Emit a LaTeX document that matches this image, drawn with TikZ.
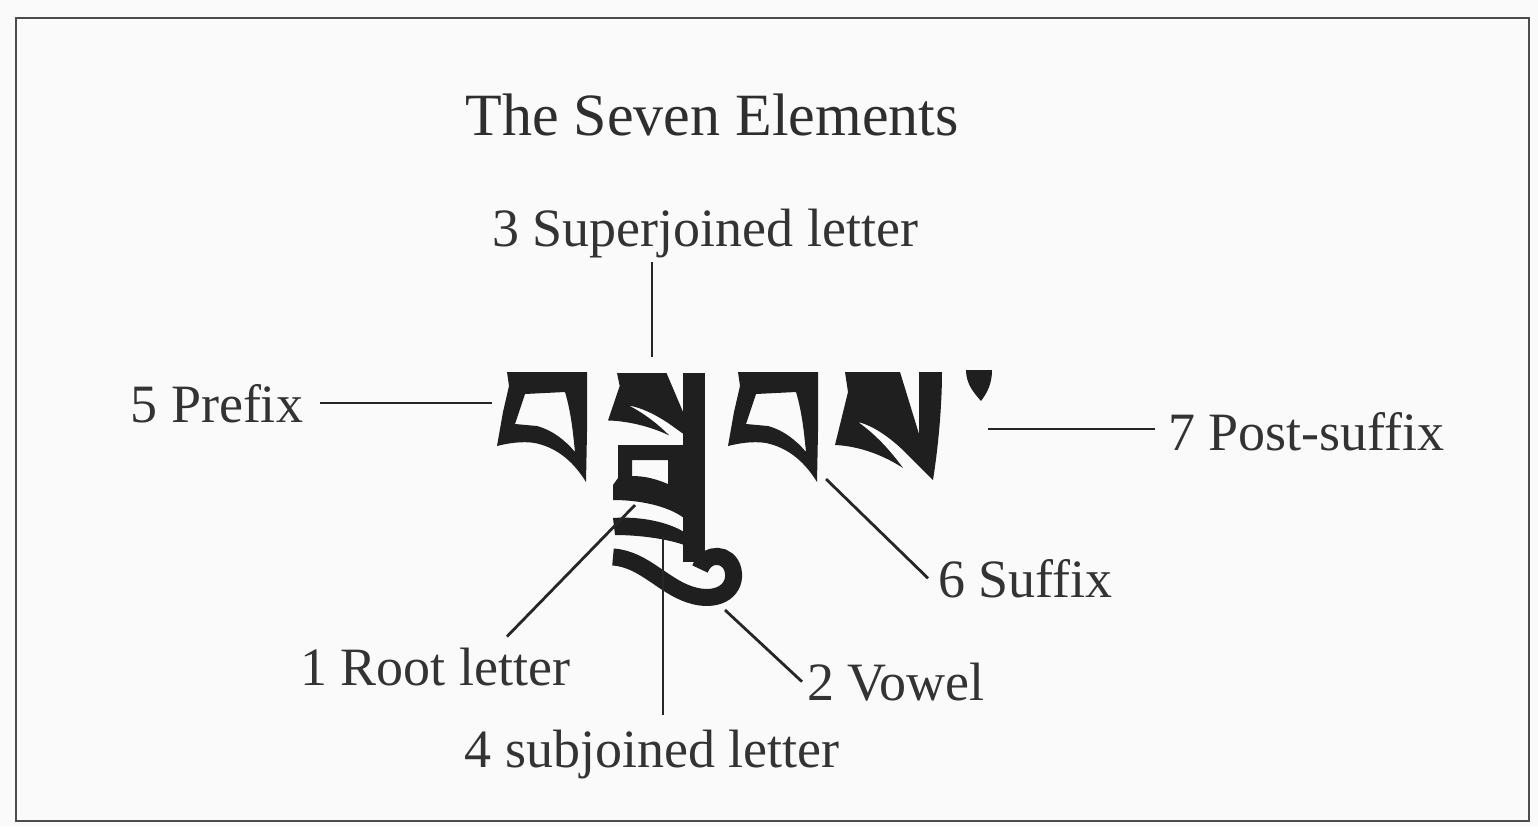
\documentclass[tikz,border=0pt]{standalone}
\usepackage{fontspec}
\setmainfont{Liberation Serif}
\tikzset{
  lbl/.style={inner sep=0pt, outer sep=0pt, text=black!80, font=\fontsize{27}{30}\selectfont},
  ttl/.style={inner sep=0pt, outer sep=0pt, text=black!82, font=\fontsize{30}{34}\selectfont},
  conn/.style={draw=black!85, line width=1.4pt},
  glyph/.style={fill=black!88, even odd rule},
  glyphstroke/.style={draw=black!88, line width=8.5pt},
  frame/.style={draw=black!70, line width=1.3pt},
  baglyph/.pic={
    \fill[glyph] (0,0) -- (80,0) -- (80,60) -- (79,110)
      .. controls (68,92) and (52,76) .. (28,71)
      .. controls (15,69) and (2,71) .. (-10,74) -- (-4,40) -- (2,14) -- cycle
      (18,22) -- (58,20) .. controls (64,40) and (66,60) .. (68,80)
      .. controls (58,68) and (45,58) .. (30,54) -- (8,52) -- cycle;
  },
  saglyph/.pic={
    \fill[glyph] (0,0) -- (55,0) -- (74,62) -- (74,0) -- (97,0)
      .. controls (97,30) and (94,70) .. (88,108)
      .. controls (80,100) and (72,92) .. (62,82)
      .. controls (48,68) and (30,54) .. (13,50)
      .. controls (30,62) and (45,78) .. (58,96)
      .. controls (40,84) and (15,74) .. (-10,73) -- (3,20) -- cycle;
  }
}
\begin{document}
\begin{tikzpicture}[x=0.5pt,y=-0.5pt]
  \useasboundingbox (0,0) rectangle (1538,826);
  \fill[black!2] (0,0) rectangle (1538,826);
  \draw[frame] (16,18) rectangle (1529,821);

  % title and labels
  \node[ttl, anchor=base] (title) at (712,135) {The Seven Elements};
  \node[lbl, anchor=base] (sup) at (705,246) {3 Superjoined letter};
  \node[lbl, anchor=base east] (pre) at (303,422) {5 Prefix};
  \node[lbl, anchor=base west] (post) at (1168,450) {7 Post-suffix};
  \node[lbl, anchor=base west] (suf) at (938,597) {6 Suffix};
  \node[lbl, anchor=base west] (vow) at (807,700) {2 Vowel};
  \node[lbl, anchor=base west] (root) at (300,685) {1 Root letter};
  \node[lbl, anchor=base] (subj) at (652,767) {4 subjoined letter};

  % Tibetan word (drawn as shapes)
  \pic at (507,372) {baglyph};
  \pic at (738,372) {baglyph};
  \pic at (845,372) {saglyph};
  \pic[xscale=0.9, yscale=0.65] at (617,373) {saglyph};
  % tsheg
  \fill[glyph] (966,370) -- (992,370) .. controls (992,384) and (987,393) .. (981,401)
     .. controls (974,393) and (966,384) .. cycle;
  % stack: stem, ga, subjoined ra, vowel u
  \fill[glyph] (683,373) rectangle (705,562);
  \fill[glyph] (618,445) -- (684,445) -- (684,518)
     .. controls (668,506) and (640,500) .. (613,500) -- (613,485) -- (618,478) -- cycle
     (632,460) -- (668,460) -- (668,484)
     .. controls (656,479) and (645,476) .. (632,476) -- cycle;
  \fill[glyph] (613,518) .. controls (640,516) and (668,522) .. (684,532) -- (692,548)
     .. controls (672,539) and (640,535) .. (615,535) -- cycle;
  \draw[glyphstroke] (613,557) .. controls (645,559) and (665,589) .. (695,596)
     .. controls (720,602) and (737,589) .. (733,570)
     .. controls (729,553) and (707,551) .. (700,569);

  % connector end points on the glyphs
  \coordinate (gPre) at (492,403);
  \coordinate (gPost) at (988,429);
  \coordinate (gSup) at (652,357);
  \coordinate (gSub) at (663,537);
  \coordinate (gRoot) at (635,505);
  \coordinate (gSuf) at (826,479);
  \coordinate (gVow) at (725,610);

  \draw[conn, shorten >=8.5pt] (gPre) -- (gPre -| pre.east);
  \draw[conn, shorten >=6.5pt] (gPost) -- (gPost -| post.west);
  \draw[conn, shorten >=2pt] (gSup) -- (gSup |- sup.south);
  \draw[conn, shorten >=7.5pt] (gSub) -- (gSub |- subj.north);
  \draw[conn] (gRoot) -- ([xshift=36pt,yshift=5.5pt]root.north);
  \draw[conn] (gSuf) -- ([xshift=-5pt]suf.west);
  \draw[conn] (gVow) -- ([xshift=-2.5pt]vow.west);
\end{tikzpicture}
\end{document}
